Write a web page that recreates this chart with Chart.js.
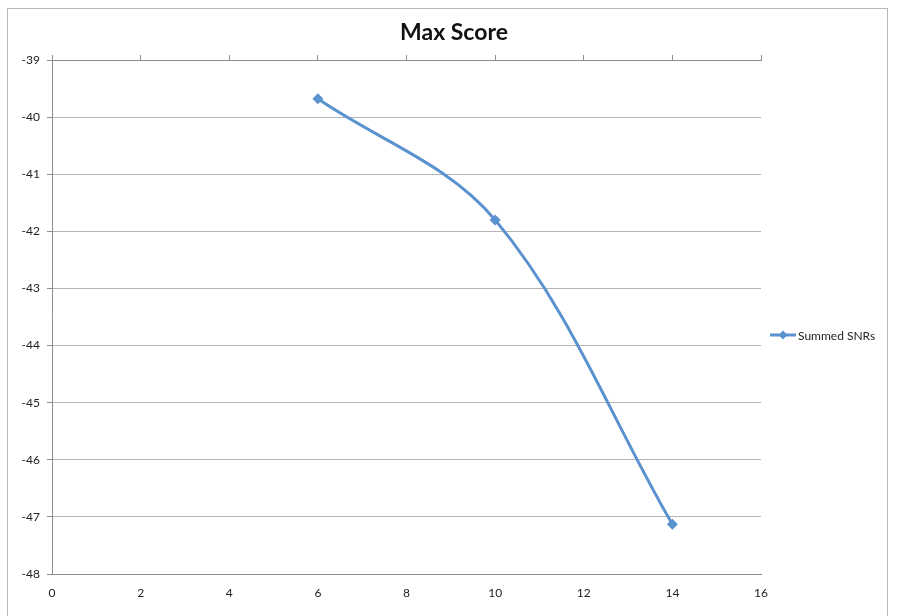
<!DOCTYPE html>
<html>
<head>
<meta charset="utf-8">
<script src="https://cdn.jsdelivr.net/npm/chart.js@4.4.1/dist/chart.umd.min.js"></script>
<style>
  html, body { margin: 0; padding: 0; background: #fff; }
  #wrap { position: relative; width: 901px; height: 616px; overflow: hidden; }
  #frame { position: absolute; left: 7px; top: 8px; width: 881px; height: 640px; border: 1px solid #b8b8b8; box-sizing: border-box; pointer-events: none; }
  canvas { position: absolute; left: 0; top: 0; }
</style>
</head>
<body>
<div id="wrap">
  <div id="frame"></div>
  <canvas id="c" width="901" height="616"></canvas>
</div>
<script>
const chartTitle = "Max Score";
const seriesName = "Summed SNRs";
const xValues = [6, 10, 14];
const yValues = [-39.68, -41.80, -47.13];
const xTicks = { min: 0, max: 16, step: 2 };
const yTicks = { min: -48, max: -39, step: 1 };

const lineColor = "#5A91CF";
const gridColor = "#b4b4b4";
const axisColor = "#8e8e8e";
const fontFamily = "Lato, 'Open Sans', sans-serif";

const points = xValues.map((x, i) => ({ x: x, y: yValues[i] }));

const decorPlugin = {
  id: 'decor',
  afterDraw(chart) {
    const ctx = chart.ctx;
    const ds = chart.data.datasets[0];
    ctx.save();
    // title
    ctx.fillStyle = "#111";
    ctx.font = "bold 23px " + fontFamily;
    ctx.textAlign = "center";
    ctx.textBaseline = "middle";
    ctx.fillText(chart.options.plugins.customTitle.text, 454, 33);
    // legend
    const cy = 335;
    const x0 = 770, x1 = 796;
    ctx.strokeStyle = ds.borderColor;
    ctx.lineWidth = 3;
    ctx.beginPath();
    ctx.moveTo(x0, cy);
    ctx.lineTo(x1, cy);
    ctx.stroke();
    const mx = (x0 + x1) / 2, r = 4.5;
    ctx.fillStyle = ds.pointBackgroundColor;
    ctx.beginPath();
    ctx.moveTo(mx, cy - r);
    ctx.lineTo(mx + r, cy);
    ctx.lineTo(mx, cy + r);
    ctx.lineTo(mx - r, cy);
    ctx.closePath();
    ctx.fill();
    ctx.fillStyle = "#222";
    ctx.font = "12px " + fontFamily;
    ctx.textBaseline = "middle";
    ctx.textAlign = "left";
    ctx.fillText(ds.label, x1 + 2, cy + 1);
    ctx.restore();
  }
};

new Chart(document.getElementById('c'), {
  type: 'line',
  data: {
    datasets: [{
      label: seriesName,
      data: points,
      borderColor: lineColor,
      backgroundColor: lineColor,
      pointBackgroundColor: lineColor,
      pointBorderColor: lineColor,
      pointStyle: 'rectRot',
      pointRadius: 5.5,
      pointBorderWidth: 0,
      borderWidth: 3,
      tension: 0.35,
      fill: false
    }]
  },
  options: {
    responsive: false,
    animation: false,
    devicePixelRatio: 1,
    layout: { padding: { top: 60, right: 140, bottom: 0, left: 0 } },
    plugins: {
      legend: { display: false },
      tooltip: { enabled: false },
      title: { display: false },
      customTitle: { text: chartTitle }
    },
    scales: {
      x: {
        type: 'linear',
        position: 'bottom',
        min: xTicks.min,
        max: xTicks.max,
        ticks: { stepSize: xTicks.step, color: "#222", font: { family: fontFamily, size: 12 }, padding: 12, maxRotation: 0 },
        grid: { display: true, drawOnChartArea: false, drawTicks: false, color: gridColor },
        border: { display: true, color: axisColor, width: 1 },
        afterFit(scale) { scale.height = 42; }
      },
      xTop: {
        type: 'linear',
        position: 'top',
        min: xTicks.min,
        max: xTicks.max,
        ticks: { stepSize: xTicks.step, display: false },
        grid: { drawOnChartArea: false, drawTicks: true, tickLength: 5, color: axisColor },
        border: { display: true, color: axisColor, width: 1 },
        afterFit(scale) { scale.height = 0; }
      },
      y: {
        type: 'linear',
        min: yTicks.min,
        max: yTicks.max,
        ticks: { stepSize: yTicks.step, color: "#222", font: { family: fontFamily, size: 12 }, padding: 7 },
        grid: { color: gridColor, tickLength: 5, tickColor: axisColor },
        border: { display: true, color: axisColor, width: 1 },
        afterFit(scale) { scale.width = 52; }
      }
    }
  },
  plugins: [decorPlugin]
});
</script>
</body>
</html>
